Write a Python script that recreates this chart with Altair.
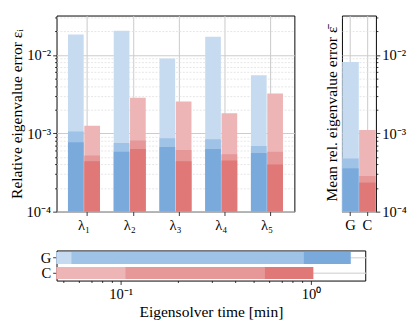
import altair as alt
import pandas as pd

# ---------------- data ----------------
lams = ["λ₁", "λ₂", "λ₃", "λ₄", "λ₅"]
methods = ["G", "C"]
levels = ["light", "medium", "dark"]

G_light = [0.0182, 0.0204, 0.0090, 0.0171, 0.0055]
G_medium = [1.05e-3, 7.5e-4, 8.65e-4, 8.4e-4, 6.9e-4]
G_dark = [7.7e-4, 5.8e-4, 6.7e-4, 6.3e-4, 5.6e-4]
C_light = [1.25e-3, 2.85e-3, 2.54e-3, 1.80e-3, 3.21e-3]
C_medium = [5.2e-4, 8.1e-4, 6.1e-4, 5.4e-4, 5.8e-4]
C_dark = [4.4e-4, 6.3e-4, 4.4e-4, 4.5e-4, 4.0e-4]

mean_G = [8.1e-3, 4.76e-4, 3.57e-4]
mean_C = [1.10e-3, 2.85e-4, 2.35e-4]

time_G = [0.0551, 0.918, 1.62]
time_C = [0.106, 0.573, 1.03]

blue = ["#c6dbef", "#9fc2e7", "#7aaadc"]
red = ["#edb5b5", "#e69797", "#e07878"]

FONT = "Liberation Serif"

# ---------------- tables ----------------
keys = [m + "-" + lv for m in methods for lv in levels]
key_colors = blue + red

rows = []
for i, lam in enumerate(lams):
    for m, arrs in (("G", (G_light, G_medium, G_dark)), ("C", (C_light, C_medium, C_dark))):
        for lv, arr in zip(levels, arrs):
            rows.append(dict(lam=lam, method=m, level=lv, key=m + "-" + lv, value=arr[i]))
df_err = pd.DataFrame(rows).sort_values("value", ascending=False, kind="stable")

rows = []
for m, arr in (("G", mean_G), ("C", mean_C)):
    for lv, v in zip(levels, arr):
        rows.append(dict(method=m, key=m + "-" + lv, value=v))
df_mean = pd.DataFrame(rows).sort_values("value", ascending=False, kind="stable")

rows = []
for m, arr in (("G", time_G), ("C", time_C)):
    for lv, v in zip(levels, arr):
        rows.append(dict(method=m, key=m + "-" + lv, value=v))
df_time = pd.DataFrame(rows).sort_values("value", ascending=False, kind="stable")

color = alt.Color("key:N", scale=alt.Scale(domain=keys, range=key_colors), legend=None)

# ---------------- log axis helpers ----------------
E = "round(log(datum.value)/LN10)"
MAJ = f"abs(log(datum.value)/LN10 - {E}) < 0.01"
LABEL_EXPR = (f"!({MAJ}) ? '' : {E} == -4 ? '10⁻⁴' : {E} == -3 ? '10⁻³' : "
              f"{E} == -2 ? '10⁻²' : {E} == -1 ? '10⁻¹' : {E} == 0 ? '10⁰' : '10¹'")

y_vals = [round(k * 10.0 ** e, 8) for e in (-4, -3, -2) for k in range(1, 10) if k * 10.0 ** e <= 0.0318]
x_vals = [round(k * 10.0 ** e, 8) for e in (-2, -1, 0) for k in range(1, 10) if 0.046 <= k * 10.0 ** e <= 1.93]

tick_size = {"condition": {"test": MAJ, "value": 4}, "value": 2}
grid_color = {"condition": {"test": MAJ, "value": "#cccccc"}, "value": "#dedede"}
grid_dash = {"condition": {"test": MAJ, "value": []}, "value": [2, 1.5]}
grid_width = {"condition": {"test": MAJ, "value": 1.1}, "value": 0.8}

yscale = alt.Scale(type="log", domain=[1e-4, 0.0318], nice=False)

LBL = 15
TTL = 16

# ---------------- top-left panel ----------------
top_left = alt.Chart(df_err).mark_bar().encode(
    x=alt.X("lam:N", sort=lams,
            scale=alt.Scale(paddingInner=0.3, paddingOuter=0.25),
            axis=alt.Axis(title=None, labelAngle=0, tickSize=4, labelPadding=2,
                          grid=True, gridColor="#c8c8c8", bandPosition=0.61,
                          labelFontSize=15)),
    xOffset=alt.XOffset("method:N", sort=methods,
                        scale=alt.Scale(paddingInner=0.04, paddingOuter=0)),
    y=alt.Y("value:Q", stack=None, scale=yscale,
            axis=alt.Axis(title="Relative eigenvalue error εᵢ", titlePadding=3,
                          minExtent=30, maxExtent=30, values=y_vals,
                          labelExpr=LABEL_EXPR, labelOverlap=False, tickSize=tick_size,
                          labelPadding=2, grid=True, gridColor=grid_color,
                          gridDash=grid_dash, gridWidth=grid_width)),
    color=color,
).properties(width=245, height=202)

# ---------------- top-right panel ----------------
base_r = alt.Chart(df_mean).mark_bar().encode(
    x=alt.X("method:N", sort=methods,
            scale=alt.Scale(paddingInner=0.05, paddingOuter=0.03),
            axis=alt.Axis(title=None, labelAngle=0, tickSize=4, labelPadding=2,
                          grid=True, gridColor="#c8c8c8", labelFontSize=15)),
    color=color,
)
r_left = base_r.encode(
    y=alt.Y("value:Q", stack=None, scale=yscale,
            axis=alt.Axis(orient="left", title="Mean rel. eigenvalue error ε̄",
                          titlePadding=3, labels=False, ticks=False, minExtent=0,
                          values=y_vals, grid=True, gridColor=grid_color,
                          gridDash=grid_dash, gridWidth=grid_width))
)
r_right = base_r.encode(
    y=alt.Y("value:Q", stack=None, scale=yscale,
            axis=alt.Axis(orient="right", title=None, grid=False, values=y_vals,
                          labelExpr=LABEL_EXPR, labelOverlap=False,
                          tickSize=tick_size, labelPadding=2))
)
top_right = alt.layer(r_left, r_right).resolve_axis(y="independent").properties(width=35, height=202)

# ---------------- bottom panel ----------------
bottom = alt.Chart(df_time).mark_bar().encode(
    y=alt.Y("method:N", sort=methods,
            scale=alt.Scale(paddingInner=0.2, paddingOuter=0.1),
            axis=alt.Axis(title="G", titleOpacity=0, titlePadding=3, minExtent=30,
                          maxExtent=30, tickSize=4, labelPadding=2, grid=True,
                          gridColor="#dddddd", gridWidth=1.5, labelFontSize=15)),
    x=alt.X("value:Q", stack=None,
            scale=alt.Scale(type="log", domain=[0.046, 1.93], nice=False),
            axis=alt.Axis(title="Eigensolver time [min]", values=x_vals,
                          labelExpr=LABEL_EXPR, labelOverlap=False, tickSize=tick_size,
                          labelPadding=2, titlePadding=3, grid=False)),
    color=color,
).properties(width=318, height=31)

top = alt.hconcat(top_left, top_right, spacing=28)
chart = alt.vconcat(top, bottom, spacing=17).properties(
    padding={"top": -3, "left": 0, "right": 0, "bottom": 0}
).configure_axis(
    labelFont=FONT, titleFont=FONT, labelFontSize=LBL, titleFontSize=TTL,
    titleFontWeight="normal", labelColor="black", titleColor="black",
    tickColor="black", domain=False, tickWidth=0.8,
).configure_view(stroke="black", strokeWidth=1)

chart.save("out.html", embed_options={"renderer": "svg", "actions": False})
